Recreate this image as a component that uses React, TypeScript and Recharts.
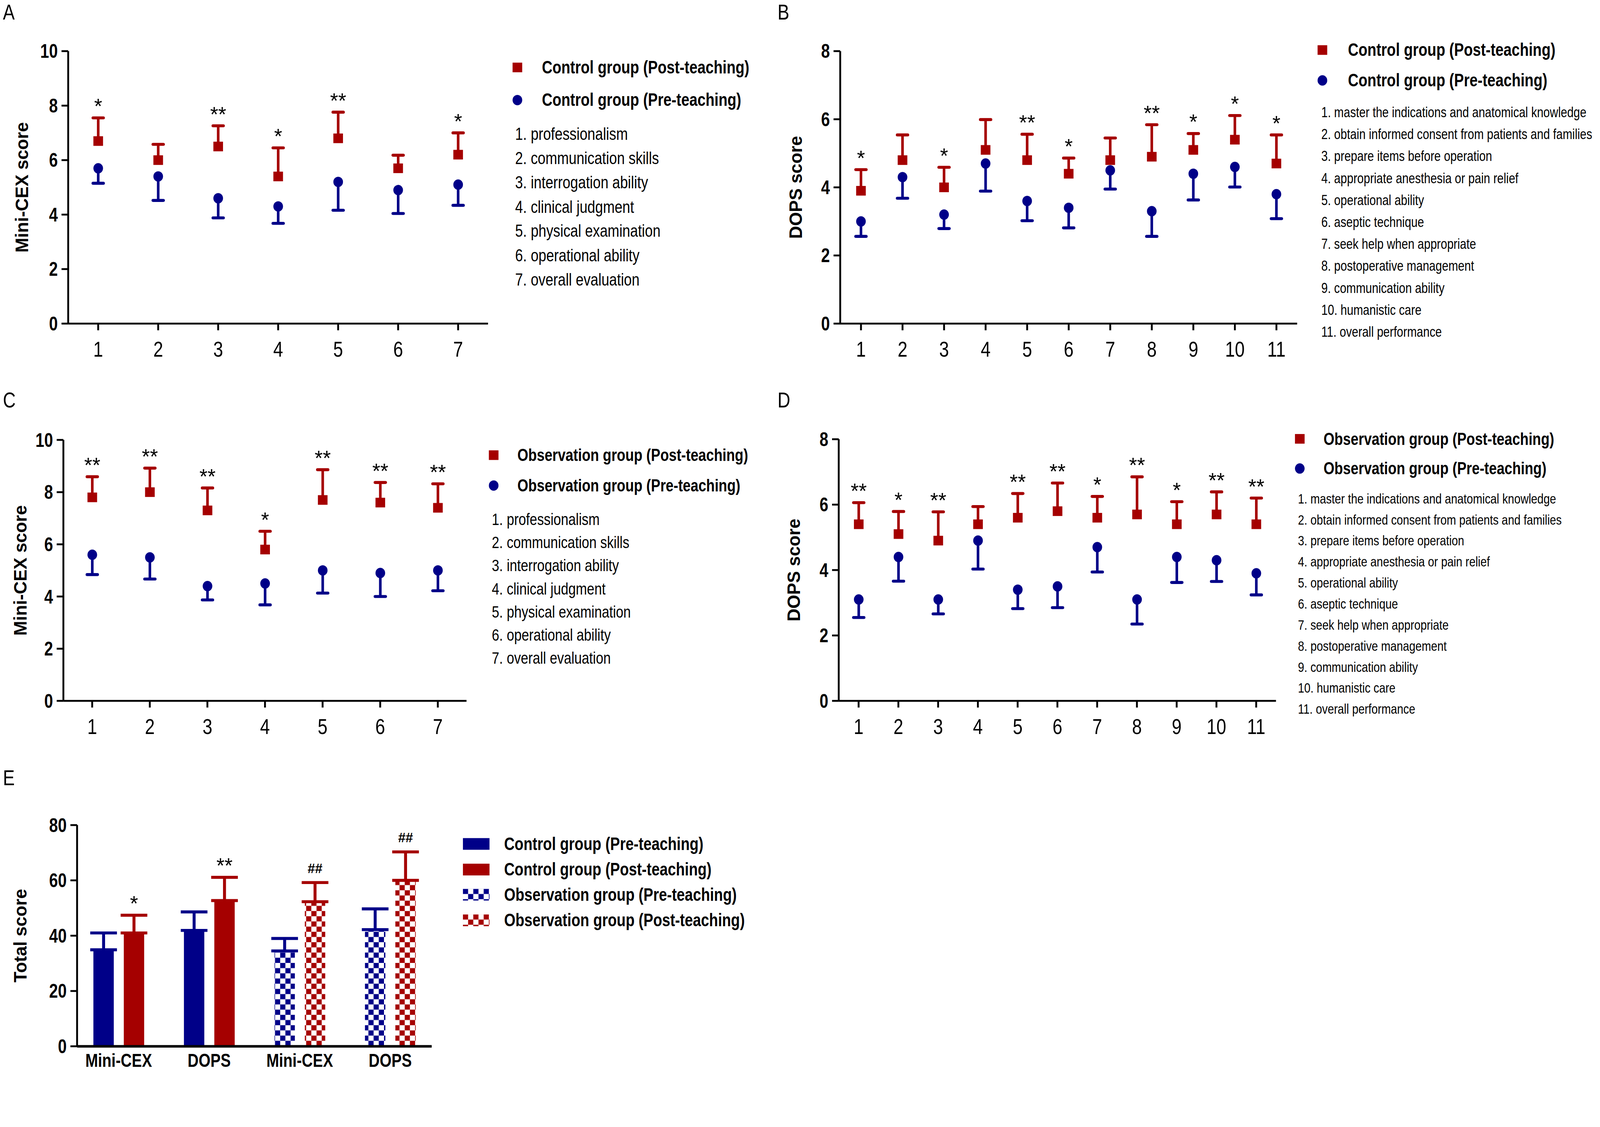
import React from 'react'
import { ComposedChart, BarChart, Bar, XAxis, YAxis, ErrorBar, Cell, Label } from 'recharts'

// ---- data ----
const miniCexItems = [
  'professionalism',
  'communication skills',
  'interrogation ability',
  'clinical judgment',
  'physical examination',
  'operational ability',
  'overall evaluation',
]
const dopsItems = [
  'master the indications and anatomical knowledge',
  'obtain informed consent from patients and families',
  'prepare items before operation',
  'appropriate anesthesia or pain relief',
  'operational ability',
  'aseptic technique',
  'seek help when appropriate',
  'postoperative management',
  'communication ability',
  'humanistic care',
  'overall performance',
]

// A: control group, Mini-CEX
const aPostMean = [6.7, 6.0, 6.5, 5.4, 6.8, 5.7, 6.2]
const aPostSd = [0.85, 0.58, 0.76, 1.05, 0.96, 0.48, 0.8]
const aPreMean = [5.7, 5.4, 4.6, 4.3, 5.2, 4.9, 5.1]
const aPreSd = [0.55, 0.88, 0.72, 0.62, 1.04, 0.86, 0.76]
const aSig = ['*', '', '**', '*', '**', '', '*']

// B: control group, DOPS
const bPostMean = [3.9, 4.8, 4.0, 5.1, 4.8, 4.4, 4.8, 4.9, 5.1, 5.4, 4.7]
const bPostSd = [0.62, 0.74, 0.59, 0.89, 0.76, 0.46, 0.65, 0.94, 0.48, 0.71, 0.84]
const bPreMean = [3.0, 4.3, 3.2, 4.7, 3.6, 3.4, 4.5, 3.3, 4.4, 4.6, 3.8]
const bPreSd = [0.44, 0.62, 0.41, 0.81, 0.58, 0.59, 0.55, 0.74, 0.77, 0.59, 0.72]
const bSig = ['*', '', '*', '', '**', '*', '', '**', '*', '*', '*']

// C: observation group, Mini-CEX
const cPostMean = [7.8, 8.0, 7.3, 5.8, 7.7, 7.6, 7.4]
const cPostSd = [0.79, 0.92, 0.86, 0.7, 1.16, 0.77, 0.92]
const cPreMean = [5.6, 5.5, 4.4, 4.5, 5.0, 4.9, 5.0]
const cPreSd = [0.76, 0.83, 0.53, 0.82, 0.87, 0.9, 0.78]
const cSig = ['**', '**', '**', '*', '**', '**', '**']

// D: observation group, DOPS
const dPostMean = [5.4, 5.1, 4.9, 5.4, 5.6, 5.8, 5.6, 5.7, 5.4, 5.7, 5.4]
const dPostSd = [0.66, 0.69, 0.88, 0.54, 0.74, 0.86, 0.65, 1.15, 0.69, 0.69, 0.8]
const dPreMean = [3.1, 4.4, 3.1, 4.9, 3.4, 3.5, 4.7, 3.1, 4.4, 4.3, 3.9]
const dPreSd = [0.55, 0.74, 0.44, 0.87, 0.58, 0.65, 0.76, 0.75, 0.78, 0.65, 0.66]
const dSig = ['**', '*', '**', '', '**', '**', '*', '**', '*', '**', '**']

// E: total scores
const eCats = ['Mini-CEX', 'DOPS', 'Mini-CEX', 'DOPS']
const ePre = [34.9, 41.9, 34.5, 42.2]
const ePreSd = [6.1, 6.7, 4.5, 7.5]
const ePost = [41.0, 52.7, 52.3, 60.0]
const ePostSd = [6.4, 8.4, 6.9, 10.3]
const eSig = ['*', '**', '##', '##']

const RED = '#a50000'
const BLUE = '#000088'
const SANS = "'Liberation Sans', Arial, sans-serif"
// no narrow face installed: squeeze Liberation Sans horizontally instead
const SX = 0.82
// the page is shown a little larger than its css size, so draw in 4317x2885 units and scale down
const PAGE_SCALE = 4096 / 4317

const axisStyle = { stroke: '#000', strokeWidth: 5 }

function rows(postMean: number[], postSd: number[], preMean: number[], preSd: number[], sig: string[]) {
  return postMean.map((m, i) => ({
    item: String(i + 1),
    post: [m, m + postSd[i]],
    pre: [preMean[i] - preSd[i], preMean[i]],
    sig: sig[i],
  }))
}

const eRows = eCats.map((c, i) => ({
  cat: c,
  pre: ePre[i],
  preErr: [0, ePreSd[i]],
  post: ePost[i],
  postErr: [0, ePostSd[i]],
  sig: eSig[i],
  postSd: ePostSd[i],
}))

const makeTick = (fs: number, bold: boolean, top: boolean) => (p: any) => (
  <g transform={`translate(${p.x},${p.y}) scale(${SX},1)`}>
    <text
      x={0}
      y={0}
      dy={top ? '0.71em' : '0.355em'}
      textAnchor={p.textAnchor}
      fontSize={fs}
      fontWeight={bold ? 700 : 400}
      fontFamily={SANS}
      fill="#000"
    >
      {p.payload.value}
    </text>
  </g>
)

// post-teaching mean (square) with upper error bar and significance marks
const PostMark = (p: any) => {
  const cx = p.x + p.width / 2
  const top = Math.min(p.y, p.y + p.height)
  const bottom = Math.max(p.y, p.y + p.height)
  const s = 26
  return (
    <g>
      <line x1={cx} x2={cx} y1={top} y2={bottom} stroke={RED} strokeWidth={7} />
      <line x1={cx - 14} x2={cx + 14} y1={top} y2={top} stroke={RED} strokeWidth={8} strokeLinecap="round" />
      <rect x={cx - s / 2} y={bottom - s / 2} width={s} height={s} fill={RED} />
      {p.payload.sig ? (
        <text x={cx} y={top - 12} textAnchor="middle" fontSize={56} fontFamily={SANS} fill="#000">
          {p.payload.sig}
        </text>
      ) : null}
    </g>
  )
}

// pre-teaching mean (circle) with lower error bar
const PreMark = (p: any) => {
  const cx = p.x + p.width / 2
  const top = Math.min(p.y, p.y + p.height)
  const bottom = Math.max(p.y, p.y + p.height)
  return (
    <g>
      <line x1={cx} x2={cx} y1={top} y2={bottom} stroke={BLUE} strokeWidth={7} />
      <line x1={cx - 14} x2={cx + 14} y1={bottom} y2={bottom} stroke={BLUE} strokeWidth={8} strokeLinecap="round" />
      <ellipse cx={cx} cy={top} rx={13} ry={14} fill={BLUE} />
    </g>
  )
}

const ETotalBar = (p: any) => {
  const patterned = String(p.fill).startsWith('url')
  const hash = p.payload && p.payload.sig === '##'
  return (
    <g>
      <rect x={p.x} y={p.y} width={p.width} height={p.height} fill={p.fill} />
      {patterned ? (
        <line x1={p.x} x2={p.x + p.width} y1={p.y} y2={p.y} stroke={p.stroke} strokeWidth={4} strokeDasharray="14 14" />
      ) : null}
      {p.payload && p.showSig ? (
        <text
          x={p.x + p.width / 2}
          y={p.y - (p.payload.postSd * p.height) / p.payload.post - (hash ? 26 : 12)}
          textAnchor="middle"
          fontSize={hash ? 36 : 56}
          fontWeight={hash ? 700 : 400}
          fontFamily={SANS}
          fill="#000"
        >
          {p.payload.sig}
        </text>
      ) : null}
    </g>
  )
}

function yTitle(title: string, dx: number) {
  return (props: any) => {
    const vb = props.viewBox || { x: 0, y: 0, width: 0, height: 0 }
    const cx = vb.x + dx
    const cy = vb.y + vb.height / 2
    return (
      <text
        x={cx}
        y={cy}
        transform={`rotate(-90 ${cx} ${cy})`}
        textAnchor="middle"
        dominantBaseline="central"
        fontSize={48}
        fontWeight={700}
        fontFamily={SANS}
        fill="#000"
      >
        {title}
      </text>
    )
  }
}

type PanelProps = {
  data: any[]
  left: number
  top: number
  width: number
  height: number
  axisW: number
  mt: number
  yMax: number
  ticks: number[]
  title: string
  titleX: number
}

function PointPanel({ data, left, top, width, height, axisW, mt, yMax, ticks, title, titleX }: PanelProps) {
  return (
    <div style={{ position: 'absolute', left, top }}>
      <ComposedChart width={width} height={height} data={data} margin={{ top: mt, right: 0, bottom: 0, left: 0 }}>
        <XAxis
          xAxisId="a"
          dataKey="item"
          height={110}
          interval={0}
          tickSize={18}
          tickMargin={30}
          axisLine={axisStyle}
          tickLine={axisStyle}
          tick={makeTick(58, false, true)}
        />
        <XAxis xAxisId="b" dataKey="item" hide />
        <YAxis
          width={axisW}
          type="number"
          domain={[0, yMax]}
          ticks={ticks}
          interval={0}
          tickSize={18}
          tickMargin={10}
          axisLine={axisStyle}
          tickLine={axisStyle}
          tick={makeTick(52, true, false)}
        >
          <Label content={yTitle(title, titleX)} />
        </YAxis>
        <Bar xAxisId="a" dataKey="post" barSize={40} shape={PostMark} isAnimationActive={false} />
        <Bar xAxisId="b" dataKey="pre" barSize={40} shape={PreMark} isAnimationActive={false} />
      </ComposedChart>
    </div>
  )
}

const Txt = ({ x, y, size, bold, children }: any) => (
  <div
    style={{
      position: 'absolute',
      left: x,
      top: y,
      fontSize: size,
      fontWeight: bold ? 700 : 400,
      lineHeight: 1,
      transform: `translateY(-50%) scaleX(${SX})`,
      transformOrigin: 'left center',
      whiteSpace: 'nowrap',
      fontFamily: SANS,
      color: '#000',
    }}
  >
    {children}
  </div>
)

const Square = ({ x, y }: any) => (
  <div style={{ position: 'absolute', left: x - 13, top: y - 13, width: 26, height: 26, background: RED }} />
)
const Dot = ({ x, y }: any) => (
  <div style={{ position: 'absolute', left: x - 13, top: y - 14, width: 26, height: 28, borderRadius: '50%', background: BLUE }} />
)

function PointLegend({ x, tx, y1, y2, post, pre, size, items, lx, ly, step, isize }: any) {
  return (
    <>
      <Square x={x} y={y1} />
      <Txt x={tx} y={y1} size={size} bold>{post}</Txt>
      <Dot x={x} y={y2} />
      <Txt x={tx} y={y2} size={size} bold>{pre}</Txt>
      {items.map((it: string, i: number) => (
        <Txt key={i} x={lx} y={ly + i * step} size={isize}>{`${i + 1}. ${it}`}</Txt>
      ))}
    </>
  )
}

const Checker = ({ id, color, cell }: any) => (
  <pattern id={id} patternUnits="userSpaceOnUse" width={cell * 2} height={cell * 2}>
    <rect width={cell * 2} height={cell * 2} fill="#fff" />
    <rect x={0} y={0} width={cell} height={cell} fill={color} />
    <rect x={cell} y={cell} width={cell} height={cell} fill={color} />
  </pattern>
)

const SwatchE = ({ y, fill, pid, color }: any) => (
  <svg style={{ position: 'absolute', left: 1249, top: y - 16 }} width={72} height={32}>
    {pid ? (
      <defs>
        <Checker id={pid} color={color} cell={14} />
      </defs>
    ) : null}
    <rect width={72} height={32} fill={fill} />
  </svg>
)

export default function App() {
  const aRows = rows(aPostMean, aPostSd, aPreMean, aPreSd, aSig)
  const bRows = rows(bPostMean, bPostSd, bPreMean, bPreSd, bSig)
  const cRows = rows(cPostMean, cPostSd, cPreMean, cPreSd, cSig)
  const dRows = rows(dPostMean, dPostSd, dPreMean, dPreSd, dSig)

  return (
    <div
      style={{
        position: 'absolute',
        left: 0,
        top: 0,
        width: 4317,
        height: 2960,
        background: '#fff',
        fontFamily: SANS,
        transform: `scale(${PAGE_SCALE})`,
        transformOrigin: '0 0',
      }}
    >
      {/* panel letters */}
      <Txt x={8} y={33} size={58}>A</Txt>
      <Txt x={2098} y={33} size={58}>B</Txt>
      <Txt x={8} y={1079} size={58}>C</Txt>
      <Txt x={2098} y={1079} size={58}>D</Txt>
      <Txt x={8} y={2098} size={58}>E</Txt>

      <PointPanel data={aRows} left={0} top={100} width={1317} height={883} axisW={184} mt={38}
        yMax={10} ticks={[0, 2, 4, 6, 8, 10]} title="Mini-CEX score" titleX={60} />
      <PointLegend x={1396} tx={1462} y1={182} y2={270} size={48}
        post="Control group (Post-teaching)" pre="Control group (Pre-teaching)"
        items={miniCexItems} lx={1390} ly={361} step={65.5} isize={46} />

      <PointPanel data={bRows} left={2090} top={100} width={1410} height={883} axisW={177} mt={38}
        yMax={8} ticks={[0, 2, 4, 6, 8]} title="DOPS score" titleX={57} />
      <PointLegend x={3568} tx={3637} y1={135} y2={217} size={48}
        post="Control group (Post-teaching)" pre="Control group (Pre-teaching)"
        items={dopsItems} lx={3565} ly={303} step={59.2} isize={38} />

      <PointPanel data={cRows} left={0} top={1100} width={1259} height={901} axisW={171} mt={87}
        yMax={10} ticks={[0, 2, 4, 6, 8, 10]} title="Mini-CEX score" titleX={55} />
      <PointLegend x={1332} tx={1396} y1={1228} y2={1310} size={46}
        post="Observation group (Post-teaching)" pre="Observation group (Pre-teaching)"
        items={miniCexItems} lx={1327} ly={1401} step={62.5} isize={44} />

      <PointPanel data={dRows} left={2090} top={1100} width={1353} height={901} axisW={173} mt={85}
        yMax={8} ticks={[0, 2, 4, 6, 8]} title="DOPS score" titleX={52} />
      <PointLegend x={3507} tx={3571} y1={1184} y2={1264} size={46}
        post="Observation group (Post-teaching)" pre="Observation group (Pre-teaching)"
        items={dopsItems} lx={3502} ly={1346} step={56.7} isize={37} />

      {/* panel E */}
      <div style={{ position: 'absolute', left: 0, top: 2150 }}>
        <BarChart width={1165} height={790} data={eRows} margin={{ top: 76, right: 0, bottom: 0, left: 0 }}
          barSize={55} barGap={27}>
          <defs>
            <Checker id="chkBlue" color={BLUE} cell={14} />
            <Checker id="chkRed" color={RED} cell={14} />
          </defs>
          <XAxis
            dataKey="cat"
            height={117}
            interval={0}
            tickLine={false}
            tickSize={0}
            tickMargin={20}
            padding={{ left: -10, right: -10 }}
            axisLine={{ stroke: '#000', strokeWidth: 7 }}
            tick={makeTick(50, true, true)}
          />
          <YAxis
            width={208}
            type="number"
            domain={[0, 80]}
            ticks={[0, 20, 40, 60, 80]}
            interval={0}
            tickSize={18}
            tickMargin={10}
            axisLine={axisStyle}
            tickLine={axisStyle}
            tick={makeTick(52, true, false)}
          >
            <Label content={yTitle('Total score', 55)} />
          </YAxis>
          <Bar dataKey="pre" isAnimationActive={false} shape={(p: any) => <ETotalBar {...p} stroke={BLUE} />}>
            {eRows.map((_, i) => (
              <Cell key={i} fill={i < 2 ? BLUE : 'url(#chkBlue)'} />
            ))}
            <ErrorBar dataKey="preErr" width={36} strokeWidth={8} stroke={BLUE} direction="y" />
          </Bar>
          <Bar dataKey="post" isAnimationActive={false}
            shape={(p: any) => <ETotalBar {...p} stroke={RED} showSig />}>
            {eRows.map((_, i) => (
              <Cell key={i} fill={i < 2 ? RED : 'url(#chkRed)'} />
            ))}
            <ErrorBar dataKey="postErr" width={36} strokeWidth={8} stroke={RED} direction="y" />
          </Bar>
        </BarChart>
      </div>

      <SwatchE y={2277} fill={BLUE} />
      <Txt x={1360} y={2277} size={48} bold>Control group (Pre-teaching)</Txt>
      <SwatchE y={2346} fill={RED} />
      <Txt x={1360} y={2346} size={48} bold>Control group (Post-teaching)</Txt>
      <SwatchE y={2414} fill="url(#lgChkBlue)" pid="lgChkBlue" color={BLUE} />
      <Txt x={1360} y={2414} size={48} bold>Observation group (Pre-teaching)</Txt>
      <SwatchE y={2483} fill="url(#lgChkRed)" pid="lgChkRed" color={RED} />
      <Txt x={1360} y={2483} size={48} bold>Observation group (Post-teaching)</Txt>
    </div>
  )
}
